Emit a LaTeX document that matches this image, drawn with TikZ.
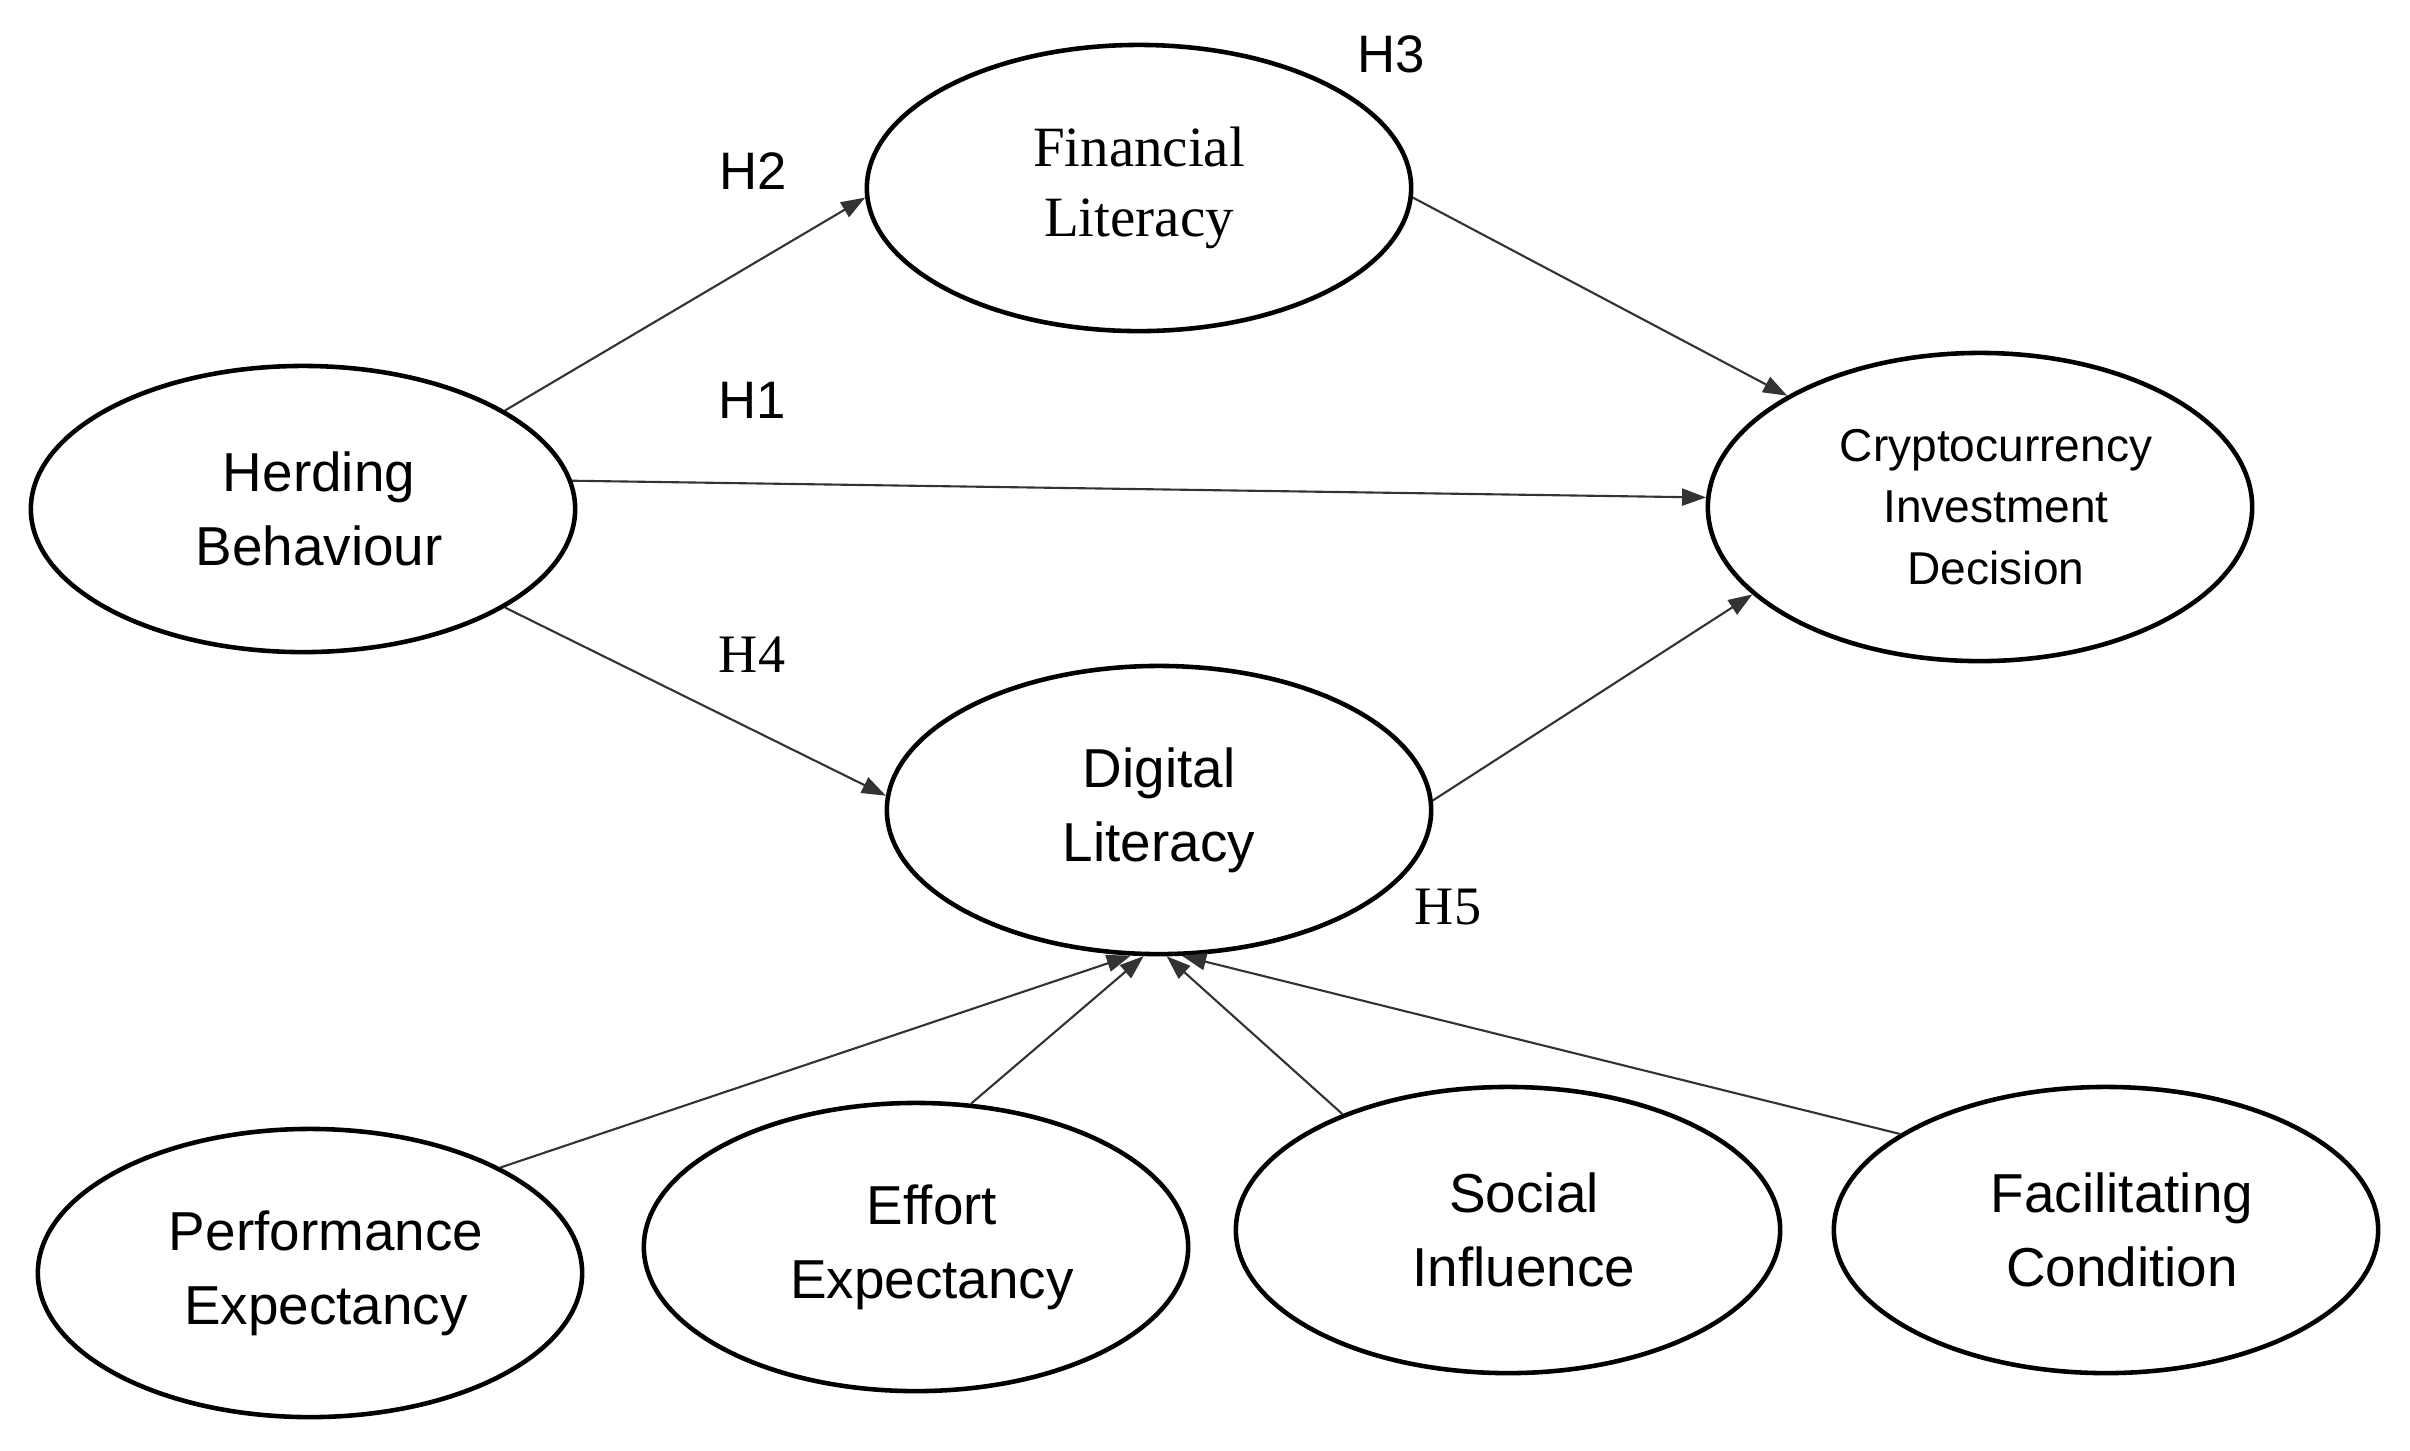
\documentclass[tikz,border=0pt]{standalone}
\usepackage{fontspec}
\setmainfont{Liberation Sans}
\newfontfamily\timesf{Liberation Serif}
\usetikzlibrary{shapes.geometric,arrows.meta}
\newcommand{\shiftln}{\hspace*{0.32cm}}
\begin{document}
\begin{tikzpicture}[x=0.01cm,y=-0.01cm,
 latent/.style={ellipse,draw,line width=1.3pt,minimum width=5.44cm,minimum height=2.86cm,inner sep=0pt,align=center,font=\fontsize{15.6}{21}\selectfont},
 conn/.style={draw=black!80,line width=0.6pt,-{Triangle[length=0.24cm,width=0.17cm]}},
 hyp/.style={font=\fontsize{15}{18}\selectfont},
 hypserif/.style={font=\timesf\fontsize{15.4}{18}\selectfont}]
\useasboundingbox (0,0) rectangle (2410,1450);
\fill[white] (0,0) rectangle (2410,1450);

\node[latent,font=\timesf\fontsize{16.2}{20}\selectfont] (fin) at (1139,188) {Financial\\Literacy};
\node[latent] (herd) at (303,509) {\shiftln Herding\\\shiftln Behaviour};
\node[latent,minimum height=3.08cm,font=\fontsize{13.1}{17.4}\selectfont] (crypto) at (1980,507) {\shiftln Cryptocurrency\\\shiftln Investment\\\shiftln Decision};
\node[latent,minimum height=2.88cm] (dig) at (1159,810) {Digital\\Literacy};
\node[latent,minimum height=2.88cm] (pe) at (310,1273) {\shiftln Performance\\\shiftln Expectancy};
\node[latent,minimum height=2.88cm] (ee) at (916,1247) {\shiftln Effort\\\shiftln Expectancy};
\node[latent] (si) at (1508,1230) {\shiftln Social\\\shiftln Influence};
\node[latent] (fc) at (2106,1230) {\shiftln Facilitating\\\shiftln Condition};

\draw[conn] (herd.26) -- (fin.182);
\draw[conn] (fin.-2) -- (crypto.150);
\draw[conn] (herd.6) -- (crypto.178);
\draw[conn] (herd.-26) -- (dig.177);
\draw[conn] (dig.2) -- (crypto.201);
\draw[conn] (pe.29) -- (dig.259);
\draw[conn] (ee.69) -- (dig.264);
\draw[conn] (si.145) -- (dig.273);
\draw[conn] (fc.155) -- (dig.279);

\node[hyp] (h2) at (753,171) {H2};
\node[hyp] (h3) at (1391,54) {H3};
\node[hyp] (h1) at (752,400) {H1};
\node[hypserif] (h4) at (752,655) {H4};
\node[hypserif] (h5) at (1448,907) {H5};
\end{tikzpicture}
\end{document}
